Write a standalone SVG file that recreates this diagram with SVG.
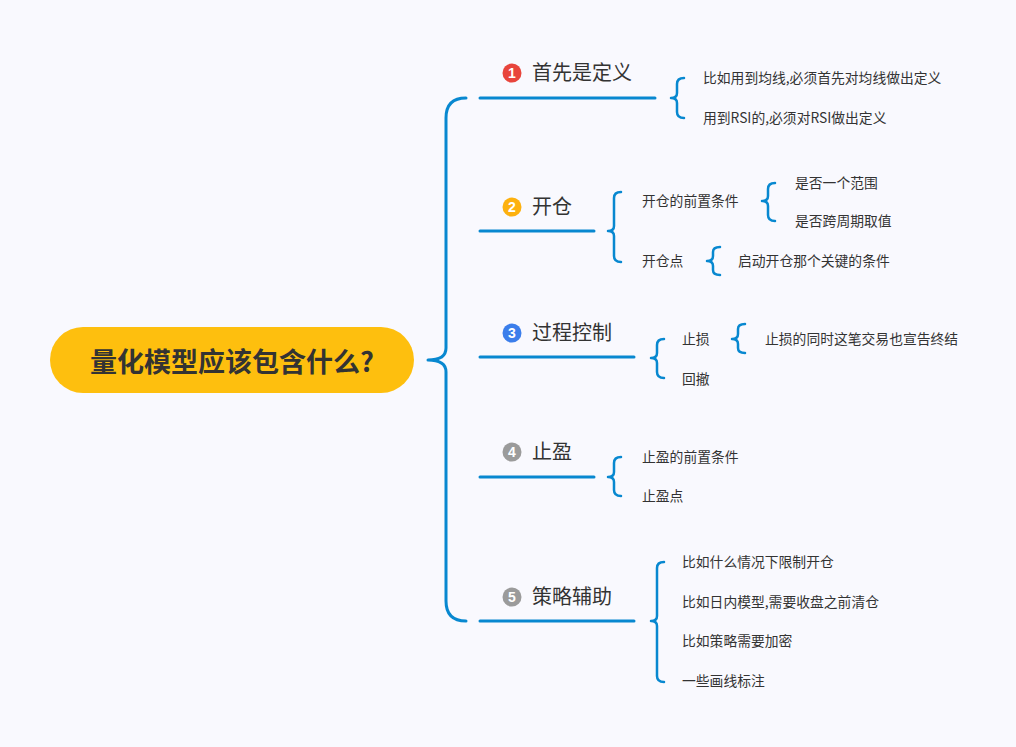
<svg xmlns="http://www.w3.org/2000/svg" width="1016" height="747" viewBox="0 0 1016 747">
<style>
.ln{fill:none;stroke:#0888D0;stroke-width:3;stroke-linecap:round;stroke-linejoin:round}
.br{fill:none;stroke:#0888D0;stroke-width:2.5;stroke-linecap:round;stroke-linejoin:round}
.t1{font-family:"Noto Sans CJK SC","Liberation Sans",sans-serif;font-size:20px;fill:#333}
.t2{font-family:"Noto Sans CJK SC","Liberation Sans",sans-serif;font-size:13.8px;fill:#333;dominant-baseline:central}
.num{font-family:"Liberation Sans",sans-serif;font-size:14px;font-weight:bold;fill:#fff;text-anchor:middle;dominant-baseline:central}
</style>
<rect width="1016" height="747" fill="#F9F9FE"/>
<g id="connectors">
<path class="ln" d="M466,98 Q446,98 446,118 L446,348 Q446,360 428,360 Q446,360 446,372 L446,601 Q446,621 466,621"/>
<path class="ln" d="M480,98 H655 M480,231 H594 M480,357 H634 M480,477 H594 M480,621 H634"/>
<path class="br" d="M684,78 Q677,78 677,84 L677,93 Q677,98 671,98 Q677,98 677,103 L677,112 Q677,118 684,118"/>
<path class="br" d="M621,192 Q614,192 614,198 L614,226 Q614,231 608,231 Q614,231 614,236 L614,256 Q614,262 621,262"/>
<path class="br" d="M775,183 Q768,183 768,189 L768,196 Q768,201 762,201 Q768,201 768,206 L768,215 Q768,221 775,221"/>
<path class="br" d="M720,247 Q713,247 713,252 L713,256 Q713,261 707,261 Q713,261 713,266 L713,270 Q713,275 720,275"/>
<path class="br" d="M664,339 Q657,339 657,345 L657,353 Q657,358 651,358 Q657,358 657,363 L657,372 Q657,378 664,378"/>
<path class="br" d="M745,324 Q738,324 738,329 L738,334 Q738,339 732,339 Q738,339 738,344 L738,348 Q738,353 745,353"/>
<path class="br" d="M621,457 Q614,457 614,463 L614,472 Q614,477 608,477 Q614,477 614,482 L614,490 Q614,496 621,496"/>
<path class="br" d="M664,562 Q657,562 657,568 L657,616 Q657,621 651,621 Q657,621 657,626 L657,676 Q657,682 664,682"/>
</g>
<g id="root">
<rect x="50" y="327" width="364" height="66" rx="33" fill="#FEBF0E"/>
<text x="232" y="360" text-anchor="middle" dominant-baseline="central" style="font-family:'Noto Sans CJK SC',sans-serif;font-size:27px;font-weight:bold;fill:#333">量化模型应该包含什么?</text>
</g>
<g id="n1"><circle cx="512" cy="73" r="9.5" fill="#E8453C"/><text class="num" x="512" y="73">1</text><text class="t1" x="532" y="80">首先是定义</text></g>
<g id="n2"><circle cx="512" cy="207" r="9.5" fill="#FDB10F"/><text class="num" x="512" y="207">2</text><text class="t1" x="532" y="214">开仓</text></g>
<g id="n3"><circle cx="512" cy="333" r="9.5" fill="#3B7EEB"/><text class="num" x="512" y="333">3</text><text class="t1" x="532" y="340">过程控制</text></g>
<g id="n4"><circle cx="512" cy="452" r="9.5" fill="#9B9B9B"/><text class="num" x="512" y="452">4</text><text class="t1" x="532" y="459">止盈</text></g>
<g id="n5"><circle cx="512" cy="597" r="9.5" fill="#9B9B9B"/><text class="num" x="512" y="597">5</text><text class="t1" x="532" y="604">策略辅助</text></g>
<g id="leaves">
<text class="t2" x="703" y="77">比如用到均线,必须首先对均线做出定义</text>
<text class="t2" x="703" y="117">用到RSI的,必须对RSI做出定义</text>
<text class="t2" x="642" y="200">开仓的前置条件</text>
<text class="t2" x="642" y="260">开仓点</text>
<text class="t2" x="795" y="182">是否一个范围</text>
<text class="t2" x="795" y="220">是否跨周期取值</text>
<text class="t2" x="738" y="260">启动开仓那个关键的条件</text>
<text class="t2" x="682" y="338">止损</text>
<text class="t2" x="682" y="378">回撤</text>
<text class="t2" x="765" y="338">止损的同时这笔交易也宣告终结</text>
<text class="t2" x="642" y="456">止盈的前置条件</text>
<text class="t2" x="642" y="495">止盈点</text>
<text class="t2" x="682" y="561">比如什么情况下限制开仓</text>
<text class="t2" x="682" y="601">比如日内模型,需要收盘之前清仓</text>
<text class="t2" x="682" y="640">比如策略需要加密</text>
<text class="t2" x="682" y="680">一些画线标注</text>
</g>
</svg>
